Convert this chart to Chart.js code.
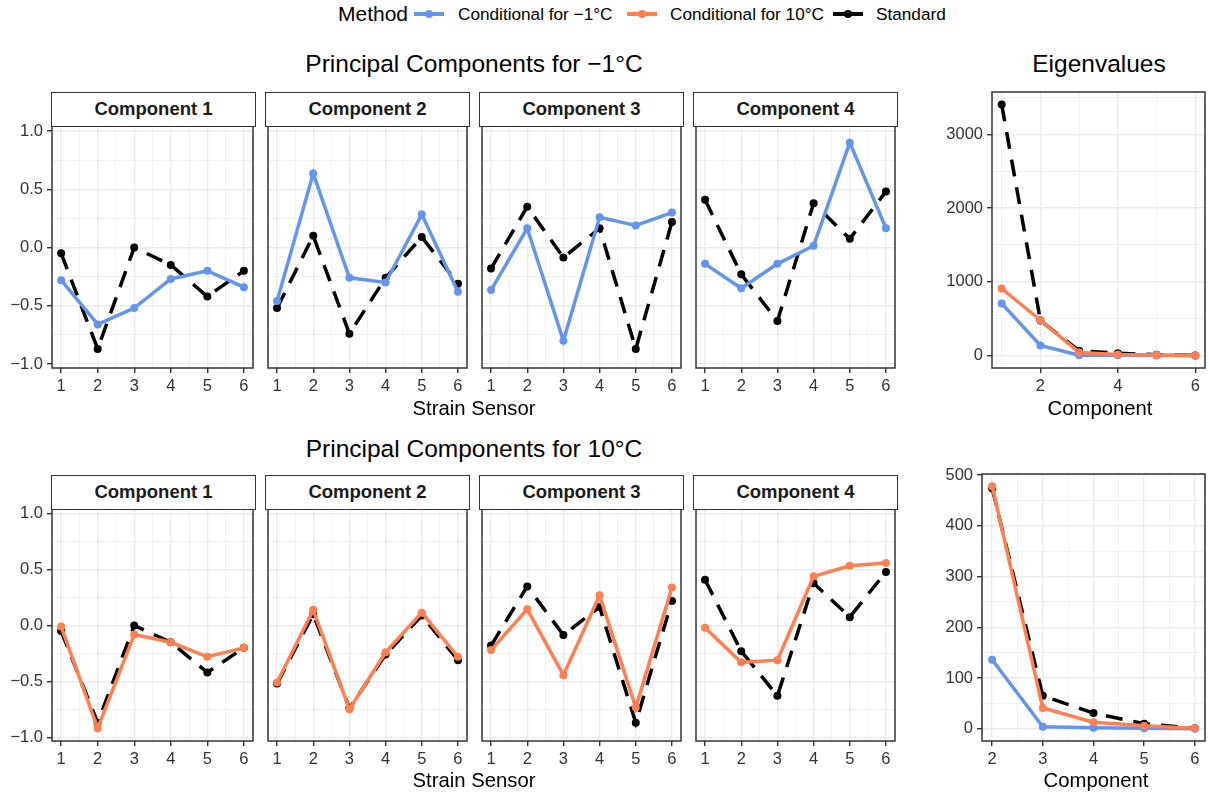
<!DOCTYPE html>
<html><head><meta charset="utf-8">
<script src="https://cdn.jsdelivr.net/npm/chart.js@4.4.0/dist/chart.umd.min.js"></script>
<style>
html,body{margin:0;padding:0;background:#fff;}
#root{position:relative;width:1209px;height:797px;overflow:hidden;font-family:"Liberation Sans",Arial,sans-serif;color:#000;}
.txt{position:absolute;white-space:nowrap;transform:translate(-50%,-50%);line-height:1.2;}
.ltxt{position:absolute;white-space:nowrap;transform:translate(0,-50%);line-height:1.2;}
.strip{position:absolute;box-sizing:border-box;border:1.5px solid #333;background:#fff;font-weight:bold;font-size:18.5px;color:#1a1a1a;display:flex;align-items:center;justify-content:center;}
canvas{position:absolute;}
</style></head><body><div id="root"></div>
<script>
// ---------------- DATA ----------------
const sensors = [1, 2, 3, 4, 5, 6];
const components = [1, 2, 3, 4, 5, 6];
const componentNames = ["Component 1", "Component 2", "Component 3", "Component 4"];
const methods = ["Conditional for \u22121\u00B0C", "Conditional for 10\u00B0C", "Standard"];

// Standard PCA loadings (same in both rows)
const stdC1 = [-0.05, -0.87, 0.00, -0.15, -0.42, -0.20];
const stdC2 = [-0.52, 0.10, -0.74, -0.26, 0.09, -0.31];
const stdC3 = [-0.18, 0.35, -0.085, 0.165, -0.87, 0.22];
const stdC4 = [0.41, -0.23, -0.63, 0.38, 0.075, 0.48];

// Conditional for -1°C
const coldC1 = [-0.28, -0.66, -0.52, -0.27, -0.20, -0.34];
const coldC2 = [-0.46, 0.635, -0.26, -0.30, 0.285, -0.38];
const coldC3 = [-0.365, 0.165, -0.80, 0.26, 0.19, 0.30];
const coldC4 = [-0.14, -0.35, -0.14, 0.015, 0.90, 0.165];

// Conditional for 10°C
const warmC1 = [-0.01, -0.92, -0.08, -0.15, -0.28, -0.20];
const warmC2 = [-0.51, 0.14, -0.75, -0.24, 0.115, -0.28];
const warmC3 = [-0.22, 0.145, -0.445, 0.27, -0.735, 0.34];
const warmC4 = [-0.02, -0.33, -0.31, 0.44, 0.535, 0.56];

// Eigenvalues
const eigStd = [3405, 474, 65, 31, 10, 1];
const eigCold = [706, 136, 4, 2, 1, 0];
const eigWarm = [909, 478, 41, 13, 6, 1];

// Tick labels
const facetXMajor = [1, 2, 3, 4, 5, 6];
const facetXMinor = [1.5, 2.5, 3.5, 4.5, 5.5];
const facetXLabels = ["1", "2", "3", "4", "5", "6"];
const facetYMajor = [-1, -0.5, 0, 0.5, 1];
const facetYMinor = [-0.75, -0.25, 0.25, 0.75];
const facetYLabels = ["\u22121.0", "\u22120.5", "0.0", "0.5", "1.0"];
const eigTopXMajor = [2, 4, 6];
const eigTopXMinor = [1, 3, 5];
const eigTopXLabels = ["2", "4", "6"];
const eigTopYMajor = [0, 1000, 2000, 3000];
const eigTopYMinor = [500, 1500, 2500, 3500];
const eigTopYLabels = ["0", "1000", "2000", "3000"];
const eigBotXMajor = [2, 3, 4, 5, 6];
const eigBotXMinor = [2.5, 3.5, 4.5, 5.5];
const eigBotXLabels = ["2", "3", "4", "5", "6"];
const eigBotYMajor = [0, 100, 200, 300, 400, 500];
const eigBotYMinor = [50, 150, 250, 350, 450];
const eigBotYLabels = ["0", "100", "200", "300", "400", "500"];

// ---------------- STYLE ----------------
const COLD = "#6495ED", WARM = "#FF7F50", STD = "#000000";
const FONT = "'Liberation Sans', Arial, sans-serif";
const root = document.getElementById('root');

function addText(t, x, y, size, extra) {
  const d = document.createElement('div');
  d.className = 'txt';
  d.textContent = t;
  d.style.left = x + 'px'; d.style.top = y + 'px'; d.style.fontSize = size + 'px';
  if (extra) Object.assign(d.style, extra);
  root.appendChild(d);
  return d;
}
function addLText(t, x, y, size) {
  const d = document.createElement('div');
  d.className = 'ltxt';
  d.textContent = t;
  d.style.left = x + 'px'; d.style.top = y + 'px'; d.style.fontSize = size + 'px';
  root.appendChild(d);
}
function addStrip(t, l, top, w, h) {
  const d = document.createElement('div');
  d.className = 'strip';
  d.textContent = t;
  d.style.left = l + 'px'; d.style.top = top + 'px'; d.style.width = w + 'px'; d.style.height = h + 'px';
  root.appendChild(d);
}
function addKey(x, y, color) {
  const ln = document.createElement('div');
  Object.assign(ln.style, {position:'absolute', left:x+'px', top:(y-1.75)+'px', width:'30px', height:'3.5px', background:color});
  root.appendChild(ln);
  const dot = document.createElement('div');
  Object.assign(dot.style, {position:'absolute', left:(x+11)+'px', top:(y-4)+'px', width:'8px', height:'8px', borderRadius:'50%', background:color});
  root.appendChild(dot);
}

const borderPlugin = {
  id: 'pborder',
  afterDraw(chart) {
    const a = chart.chartArea, ctx = chart.ctx;
    ctx.save(); ctx.strokeStyle = '#333'; ctx.lineWidth = 1.5;
    ctx.strokeRect(a.left, a.top, a.right - a.left, a.bottom - a.top);
    ctx.restore();
  }
};

function axis(dir, min, max, majors, minors, labels, showLabels, size) {
  return {
    type: 'linear', min: min, max: max, position: dir === 'x' ? 'bottom' : 'left',
    afterBuildTicks: s => {
      s.ticks = majors.concat(minors).sort((a, b) => a - b).map(v => ({value: v, isMaj: majors.includes(v)}));
    },
    afterFit: s => {
      if (dir === 'x') s.height = size; else s.width = size;
      s.paddingLeft = 0; s.paddingRight = 0; s.paddingTop = 0; s.paddingBottom = 0;
    },
    border: {display: false},
    grid: {
      color: '#EBEBEB',
      lineWidth: ctx => (ctx.tick && ctx.tick.isMaj) ? 1.4 : 0.7,
      drawTicks: showLabels, tickLength: 5,
      tickColor: ctx => (ctx.tick && ctx.tick.isMaj) ? '#333' : 'rgba(0,0,0,0)',
      tickWidth: 1.4
    },
    ticks: {
      display: showLabels, autoSkip: false, maxRotation: 0, minRotation: 0, padding: 4,
      color: '#333', font: {family: FONT, size: 16.5},
      callback: v => { const i = majors.indexOf(v); return i >= 0 ? labels[i] : ''; }
    }
  };
}

function series(xs, ys, color, dashed, order, fromX) {
  const pts = xs.map((x, i) => ({x: x, y: ys[i]})).filter(p => fromX === undefined || p.x >= fromX);
  return {
    data: pts, borderColor: color, backgroundColor: color, borderWidth: 3.5,
    borderDash: dashed ? [17, 11] : [], borderCapStyle: 'butt',
    pointRadius: 4, pointBorderWidth: 0, pointBackgroundColor: color,
    tension: 0, order: order, clip: false
  };
}

function makePanel(cfg) {
  const c = document.createElement('canvas');
  const cw = cfg.W + cfg.padL + cfg.padR, ch = cfg.H + cfg.padT + cfg.padB;
  c.width = cw; c.height = ch;
  c.style.left = (cfg.L - cfg.padL) + 'px'; c.style.top = (cfg.T - cfg.padT) + 'px';
  c.style.width = cw + 'px'; c.style.height = ch + 'px';
  root.appendChild(c);
  new Chart(c, {
    type: 'line',
    data: {datasets: cfg.datasets},
    options: {
      responsive: false, animation: false, devicePixelRatio: 1,
      layout: {padding: {top: cfg.padT, right: cfg.padR, left: 0, bottom: 0}},
      plugins: {legend: {display: false}, tooltip: {enabled: false}, title: {display: false}},
      scales: {
        x: axis('x', cfg.xMin, cfg.xMax, cfg.xMajor, cfg.xMinor, cfg.xLabels, true, cfg.padB),
        y: axis('y', cfg.yMin, cfg.yMax, cfg.yMajor, cfg.yMinor, cfg.yLabels, cfg.yShow, cfg.padL)
      }
    },
    plugins: [borderPlugin]
  });
}

// ---------------- LAYOUT ----------------
const stdAll = [stdC1, stdC2, stdC3, stdC4];
const coldAll = [coldC1, coldC2, coldC3, coldC4];
const warmAll = [warmC1, warmC2, warmC3, warmC4];
const facetL = [52, 266, 480, 694];
const FW = 203;
const rows = [
  {T: 126, H: 242, stripT: 92, cond: coldAll, col: COLD},
  {T: 509, H: 232, stripT: 475, cond: warmAll, col: WARM}
];
rows.forEach(r => {
  for (let k = 0; k < 4; k++) {
    const first = k === 0;
    makePanel({
      L: facetL[k], T: r.T, W: FW, H: r.H,
      padL: first ? 52 : 2, padT: 10, padR: 2, padB: 30,
      xMin: 0.75, xMax: 6.25, yMin: -1.034, yMax: 1.043,
      xMajor: facetXMajor, xMinor: facetXMinor, xLabels: facetXLabels,
      yMajor: facetYMajor, yMinor: facetYMinor, yLabels: facetYLabels, yShow: first,
      datasets: [series(sensors, stdAll[k], STD, true, 2), series(sensors, r.cond[k], r.col, false, 0)]
    });
    addStrip(componentNames[k], facetL[k] - 0.75, r.stripT, FW + 1.5, r.T - r.stripT + 0.75);
  }
});

// Eigenvalue panels
makePanel({
  L: 992, T: 92, W: 216, H: 276, padL: 60, padT: 10, padR: 1, padB: 30,
  xMin: 0.75, xMax: 6.25, yMin: -170, yMax: 3575,
  xMajor: eigTopXMajor, xMinor: eigTopXMinor, xLabels: eigTopXLabels,
  yMajor: eigTopYMajor, yMinor: eigTopYMinor, yLabels: eigTopYLabels, yShow: true,
  datasets: [series(components, eigStd, STD, true, 2), series(components, eigCold, COLD, false, 1), series(components, eigWarm, WARM, false, 0)]
});
makePanel({
  L: 982, T: 474, W: 226, H: 267, padL: 50, padT: 10, padR: 1, padB: 30,
  xMin: 1.8, xMax: 6.2, yMin: -23.9, yMax: 501.9,
  xMajor: eigBotXMajor, xMinor: eigBotXMinor, xLabels: eigBotXLabels,
  yMajor: eigBotYMajor, yMinor: eigBotYMinor, yLabels: eigBotYLabels, yShow: true,
  datasets: [series(components, eigStd, STD, true, 2, 2), series(components, eigCold, COLD, false, 1, 2), series(components, eigWarm, WARM, false, 0, 2)]
});

// Titles
addText("Principal Components for \u22121\u00B0C", 474, 64, 24.5);
addText("Eigenvalues", 1099, 64, 24.5);
addText("Principal Components for 10\u00B0C", 474, 449, 24.5);
addText("Strain Sensor", 474, 408, 20.3);
addText("Strain Sensor", 474, 780, 20.3);
addText("Component", 1100, 408, 20.3);
addText("Component", 1096, 780, 20.3);

// Legend
addLText("Method", 338, 14, 21);
addKey(414, 14, COLD); addLText(methods[0], 458, 14, 17.2);
addKey(627, 14, WARM); addLText(methods[1], 670, 14, 17.2);
addKey(833, 14, STD); addLText(methods[2], 876, 14, 17.2);
</script></body></html>
